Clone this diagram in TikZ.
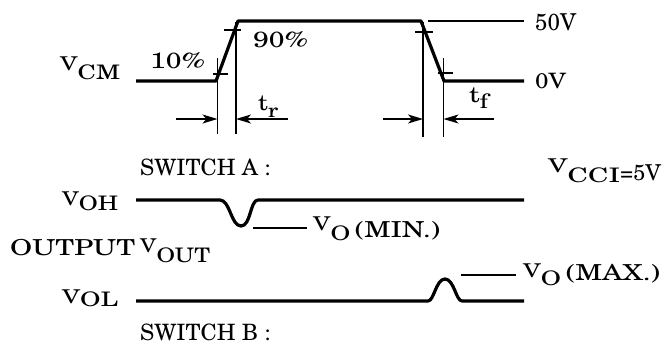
\documentclass[tikz,border=0pt]{standalone}
\usepackage[T1]{fontenc}
\usepackage{newcent}
\usepackage{graphicx}
\usetikzlibrary{arrows.meta}
\newcommand{\Vlab}[2][8]{{\fontsize{19}{19}\selectfont V}\raisebox{-#1pt}{\fontsize{20}{20}\selectfont #2}}
\newcommand{\tlab}[2][7]{{\fontsize{22}{22}\selectfont t}\raisebox{-#1pt}{\fontsize{20}{20}\selectfont #2}}
\newcommand{\fitw}[2]{\resizebox{#1pt}{\height}{#2}}
\newcommand{\fitwh}[3]{\resizebox{#1pt}{#2pt}{#3}}
\tikzset{
  wave/.style={line width=3.2pt, line join=round},
  thinline/.style={line width=1.4pt},
  dimarrow/.style={line width=1.4pt, -{Stealth[length=15pt,width=9pt,inset=4pt]}},
  lbl/.style={anchor=base west, inner sep=0pt, font=\fontsize{22}{22}\selectfont},
  swlbl/.style={lbl, font=\fontsize{22.5}{23}\selectfont},
}
\begin{document}
\begin{tikzpicture}[x=1pt,y=-1pt]
\useasboundingbox (0,0) rectangle (662,346);
% input waveform
\coordinate (a0) at (136,81);
\coordinate (a1) at (216,81);
\coordinate (a2) at (238,21);
\coordinate (a3) at (421,21);
\coordinate (a4) at (444,81);
\coordinate (a5) at (524,81);
\draw[wave] (a0) -- (a1) -- (a2) -- (a3) -- (a4) -- (a5);
% ticks and extension lines
\draw[thinline] (213,74) -- (228,74);
\draw[thinline] (217.5,58) -- (217.5,134);
\draw[thinline] (224,30) -- (241,30);
\draw[thinline] (236,22) -- (236,134);
\draw[thinline] (415,32) -- (433,32);
\draw[thinline] (423,22) -- (423,137);
\draw[thinline] (438,73) -- (453,73);
\draw[thinline] (443.5,58) -- (443.5,137);
\draw[thinline] (428,21) -- (524,21);
% dimension arrows
\coordinate (r1s) at (176,119); \coordinate (r1e) at (217.5,119);
\coordinate (r2s) at (288,119); \coordinate (r2e) at (236,119);
\coordinate (f1s) at (383,119); \coordinate (f1e) at (423,119);
\coordinate (f2s) at (494,119); \coordinate (f2e) at (443.5,119);
\draw[dimarrow] (r1s) -- (r1e);
\draw[dimarrow] (r2s) -- (r2e);
\draw[dimarrow] (f1s) -- (f1e);
\draw[dimarrow] (f2s) -- (f2e);
% output waveforms
\draw[wave] (136,200) -- (220,200) .. controls (230,200) and (231,226) .. (241,226) .. controls (251,226) and (250,200) .. (258,200) -- (524,200);
\draw[wave] (136,301) -- (428,301) .. controls (434,301) and (436,279) .. (445,279) .. controls (454,279) and (456,301) .. (462,301) -- (524,301);
\draw[thinline] (253,228) -- (307,228);
\draw[thinline] (461,275) -- (516,275);
% labels
\node[lbl] (vcm) at (60,70) {\fitw{60}{\Vlab[9]{CM}}};
\node[lbl] (p10) at (150,68) {\fitw{55}{10\%}};
\node[lbl] (p90) at (253,47) {\fitw{55}{90\%}};
\node[lbl] (v50) at (535,30) {\fitwh{41}{17}{50V}};
\node[lbl] (v0) at (535,88) {\fitwh{31}{15.5}{0V}};
\node[lbl] (tr) at (258,110) {\fitw{20}{\tlab[7]{r}}};
\node[lbl] (tf) at (469,102) {\fitw{19}{\tlab[6]{f}}};
\node[swlbl] (swa) at (140,175) {SWITCH A :};
\node[lbl] (vcci) at (548,172) {\fitw{72}{\Vlab[10]{CCI}}\raisebox{-8pt}{\fitwh{41}{16}{=5V}}};
\node[lbl] (voh) at (62,205) {\fitw{56}{\Vlab[5]{OH}}};
\node[lbl] (vomin) at (313,230) {\fitw{127}{\Vlab[10]{O}\,\raisebox{-7pt}{(MIN.)}}};
\node[lbl] (out) at (10,255) {\fitw{125}{OUTPUT}};
\node[lbl] (vout) at (140,252) {\fitw{70}{\Vlab[10]{OUT}}};
\node[lbl] (vomax) at (523,277) {\fitw{137}{\Vlab[8]{O}\,\raisebox{-3pt}{(MAX.)}}};
\node[lbl] (vol) at (62,303) {\fitw{56}{\Vlab[3]{OL}}};
\node[swlbl] (swb) at (140,340) {SWITCH B :};
\end{tikzpicture}
\end{document}
